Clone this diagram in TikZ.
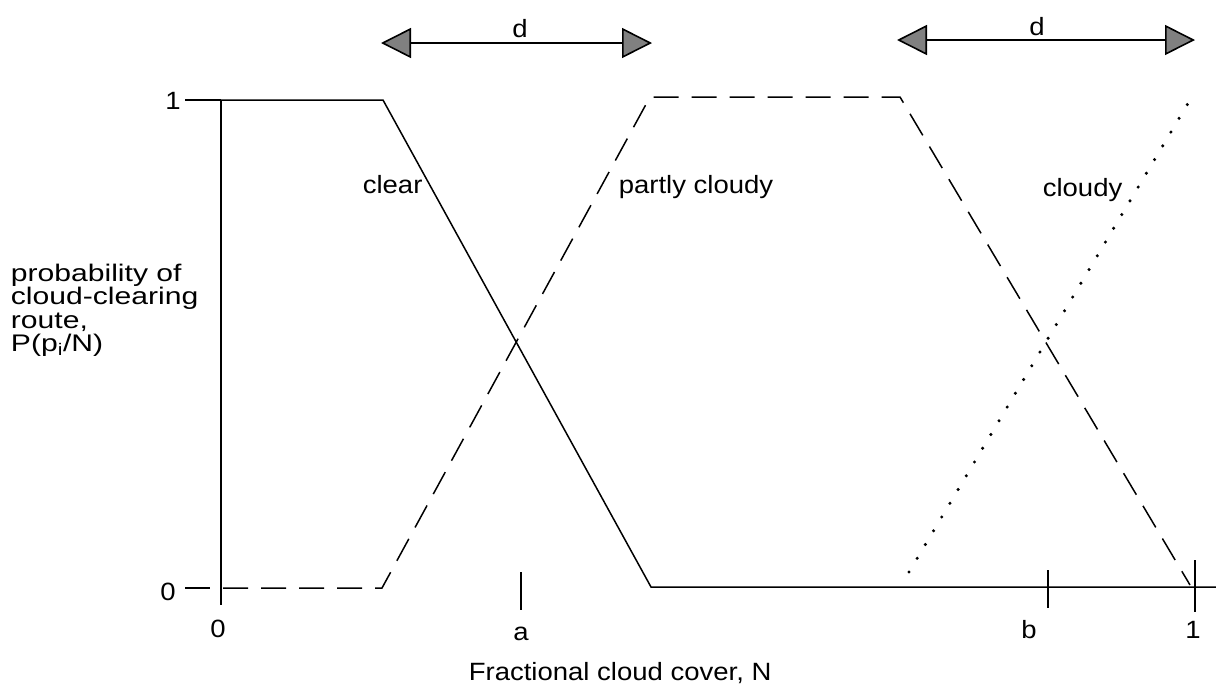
\documentclass[tikz,border=0pt]{standalone}
\usepackage{fontspec}
\setmainfont{Liberation Sans}
\usetikzlibrary{positioning}
\usetikzlibrary{arrows.meta}
\tikzset{txt/.style = {font=\fontsize{25}{22}\selectfont, inner sep=0, xscale=1.1}}
\tikzset{pcl/.style = {dash pattern=on 25pt off 13pt}}
\tikzset{cld/.style = {line width=3.4pt, line cap=round, dash pattern=on 0pt off 16pt}}
\tikzset{dbl/.style = {{Triangle[length=30pt, width=30pt, fill=gray]}-{Triangle[length=30pt, width=30pt, fill=gray]},
                       line width=1.6pt}}

\begin{document}
\begin{tikzpicture}[x=1pt, y=-1pt, line width=1.5pt]
      \useasboundingbox (0,0) rectangle (1216,694);

      % axes and ticks
      \draw (221,100) -- (221,605);
      \draw (185,100) -- (221,100);
      \draw (185,588) -- (210,588);
      \draw (521,572) -- (521,610);
      \draw (1048,570) -- (1048,608);
      \draw (1195,560) -- (1195,612);

      % clear
      \draw (221,100) -- (383,100) -- (651,587) -- (1216,587);
      % partly cloudy
      \draw[pcl] (223,588) -- (382,588) -- (650,97) -- (900,97) -- (1190,585);
      % cloudy
      \draw[cld] (909,572) -- (1190,100);

      % widths d
      \coordinate (dl1) at (381,43);
      \coordinate (dl2) at (652,43);
      \coordinate (dr1) at (897,40);
      \coordinate (dr2) at (1195,40);
      \draw[dbl] (dl1) -- (dl2);
      \draw[dbl] (dr1) -- (dr2);
      \node[txt, anchor=base] (dL) at (520,37) {d};
      \node[txt, anchor=base] (dR) at (1037,35) {d};

      % curve labels
      \node[txt, anchor=base west] (clear) at (362,193) {clear};
      \node[txt, anchor=base west] (partly) at (618,193) {partly cloudy};
      \node[txt, anchor=base west] (cloudy) at (1042,196) {cloudy};

      % tick labels
      \node[txt, anchor=base] (y1) at (173,109) {1};
      \node[txt, anchor=base] (y0) at (168,600) {0};
      \node[txt, anchor=base] (x0) at (218,637) {0};
      \node[txt, anchor=base] (xa) at (521,640) {a};
      \node[txt, anchor=base] (xb) at (1029,638) {b};
      \node[txt, anchor=base] (x1) at (1193,638) {1};

      % axis titles
      \node[txt, font=\fontsize{24}{23.5}\selectfont, xscale=1.14, anchor=north west, align=left] (ytitle) at (10,263)
            {probability of\\cloud-clearing\\route,\\P(p\textsubscript{i}/N)};
      \node[txt, anchor=base west] (xtitle) at (468,680) {Fractional cloud cover, N};
\end{tikzpicture}
\end{document}
